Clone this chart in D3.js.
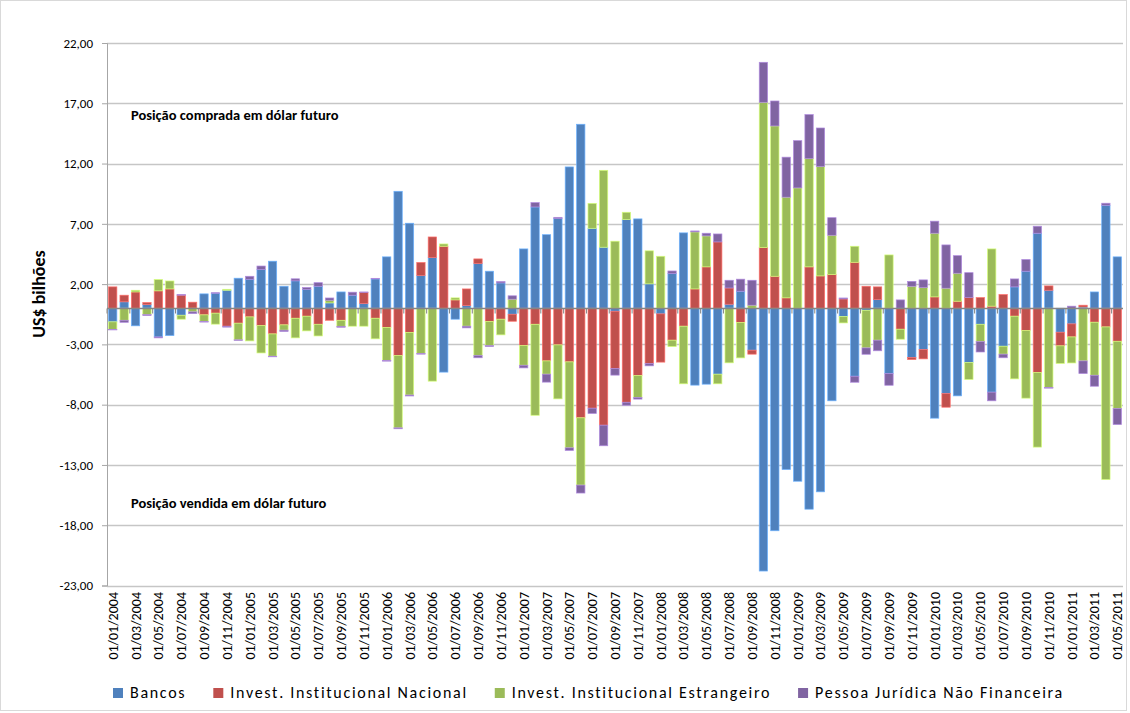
<!DOCTYPE html>
<html>
<head>
<meta charset="utf-8">
<script src="https://cdn.jsdelivr.net/npm/d3@7"></script>
<style>
body { margin: 0; background: #fff; }
svg text { font-family: Carlito, Calibri, Lato, "Open Sans", sans-serif; fill: #000; }
</style>
</head>
<body>
<div id="chart"></div>
<script>
// monthly positions, US$ bilhões, jan/2004 .. mai/2011
var bancos = [-1.13, 0.53, -1.46, 0.3, -2.38, -2.27, -0.58, 0, 1.19, 1.24, 1.49, 2.49, 2.4, 3.2, 3.9,
  1.82, 2.27, 1.55, 1.82, 0.44, 1.35, 1.08, 0.39, 2.43, 4.26, 9.7, 7.05, 2.71, 4.2, -5.3,
  -0.91, 0.22, 3.7, 3.07, 2.1, -0.5, 4.92, 8.4, 6.1, 7.43, 11.72, 15.26, 6.63, 5.06, -0.25,
  7.35, 7.41, 2.02, -0.47, 2.87, 6.25, -6.38, -6.3, -5.47, 0.33, 1.41, -3.48, -21.8, -18.46, -13.38,
  -14.35, -16.67, -15.23, -7.68, -0.69, -5.64, -0.17, 0.72, -5.42, 0, -4.09, -3.43, -9.12, -7.08, -7.27,
  -4.5, -1.33, -6.96, -3.15, 1.77, 3.07, 6.22, 1.49, -1.99, -1.3, 0.1, 1.35, 8.54, 4.26];
var nacional = [1.77, 0.55, 1.35, 0.17, 1.44, 1.6, 1.08, 0.5, -0.55, -0.41, -1.49, -1.24, -0.72, -1.44, -2.13,
  -1.38, -0.83, -0.66, -1.33, -1.0, -1.0, 0, 0.91, -0.83, -1.6, -3.92, -2.0, 1.08, 1.71, 5.14,
  0.69, 1.38, 0.39, -1.1, -0.91, -0.58, -3.1, -1.33, -4.37, -3.04, -4.45, -9.09, -8.29, -9.7, -4.75,
  -7.8, -5.58, -4.59, -4.0, -2.65, -1.49, 1.6, 3.43, 5.5, 1.35, -1.19, -0.33, 5.03, 2.65, 0.86,
  0, 3.43, 2.68, 2.79, 0.77, 3.81, 1.82, 1.05, 0, -1.74, -0.17, -0.77, 0.94, -1.13, 0.58,
  0.88, 0.88, 0.17, 1.13, -0.66, -1.85, -5.33, 0.36, -1.13, -1.08, 0.15, -1.16, -1.55, -2.74];
var estrangeiro = [-0.64, -1.0, 0.14, -0.53, 0.94, 0.66, -0.33, -0.3, -0.55, -0.91, 0.08, -1.38, -1.99, -2.27, -1.85,
  -0.44, -1.63, -1.22, -0.97, 0.22, -0.5, -1.49, -1.49, -1.71, -2.74, -6.0, -5.2, -3.76, -6.05, 0.19,
  0.17, -1.49, -3.92, -2.0, -1.3, 0.75, -1.63, -7.55, -1.1, -4.48, -7.13, -5.58, 2.07, 6.38, 5.56,
  0.61, -1.82, 2.74, 4.31, -0.53, -4.78, 4.73, 2.57, -0.8, -4.53, -2.93, 0.25, 12.05, 12.47, 8.35,
  9.98, 8.98, 9.07, 3.26, -0.53, 1.33, -3.12, -2.65, 4.42, -0.83, 1.82, 1.71, 5.28, 1.66, 2.32,
  -1.41, -1.44, 4.75, -0.66, -5.2, -5.61, -6.19, -6.58, -1.46, -2.16, -4.37, -4.4, -12.66, -5.58];
var pjNaoFin = [-0.03, -0.17, 0, -0.08, -0.08, 0, 0.05, -0.15, -0.05, 0.05, -0.08, -0.05, 0.25, 0.3, -0.05,
  -0.11, 0.17, 0.17, 0.3, 0.19, -0.08, 0.25, 0.05, 0.05, -0.05, -0.08, -0.08, -0.05, 0, 0,
  0, -0.14, -0.19, -0.08, 0.11, 0.28, -0.22, 0.36, -0.66, 0.11, -0.22, -0.66, -0.44, -1.71, -0.55,
  -0.25, -0.14, -0.19, 0, 0.22, 0, 0.08, 0.22, 0.66, 0.64, 1.0, 2.07, 3.32, 2.07, 3.32,
  3.92, 3.65, 3.2, 1.46, 0.08, -0.5, -0.53, -0.88, -0.97, 0.69, 0.41, 0.64, 1.0, 3.59, 1.46,
  2.07, -0.86, -0.72, -0.3, 0.66, 0.97, 0.58, -0.05, 0, 0.17, -1.05, -0.91, 0.17, -1.33];

var seriesNames = ["Bancos", "Invest. Institucional Nacional", "Invest. Institucional Estrangeiro", "Pessoa Jurídica Não Financeira"];
var seriesColors = ["#4F81BD", "#C0504D", "#9BBB59", "#8064A2"];
var yTicks = [22, 17, 12, 7, 2, -3, -8, -13, -18, -23];

// categories: first day of each month
var months = d3.timeMonths(new Date(2004, 0, 1), new Date(2011, 4, 2));
var fmtMonth = d3.timeFormat("%d/%m/%Y");
var categories = months.map(fmtMonth);

// table for d3.stack
var table = categories.map(function(c, i) {
  return { cat: c, b: bancos[i], n: nacional[i], e: estrangeiro[i], p: pjNaoFin[i] };
});
var keys = ["b", "n", "e", "p"];

var W = 1130, H = 713;
var plot = { left: 107, right: 1123, top: 43, bottom: 585.5 };

var svg = d3.select("#chart").append("svg")
  .attr("width", W)
  .attr("height", H);

// outer frame
svg.append("rect")
  .attr("x", 0.5).attr("y", 0.5)
  .attr("width", 1126).attr("height", 710)
  .attr("fill", "none").attr("stroke", "#d9d9d9");

var x = d3.scaleBand()
  .domain(categories)
  .range([plot.left, plot.right])
  .paddingInner(0.27)
  .paddingOuter(0.135);

var y = d3.scaleLinear()
  .domain([-23, 22])
  .range([plot.bottom, plot.top]);

// gridlines
svg.append("g")
  .selectAll("line")
  .data(yTicks)
  .enter().append("line")
    .attr("x1", plot.left).attr("x2", plot.right)
    .attr("y1", function(d) { return Math.round(y(d)) + 0.5; })
    .attr("y2", function(d) { return Math.round(y(d)) + 0.5; })
    .attr("stroke", "#c6c6c6")
    .attr("stroke-width", 1.3);

// y axis
var yAxis = svg.append("g")
  .attr("transform", "translate(" + plot.left + ",0)")
  .call(d3.axisLeft(y)
    .tickValues(yTicks)
    .tickSize(5)
    .tickPadding(9)
    .tickFormat(function(d) { return d.toFixed(2).replace(".", ","); }));
yAxis.select(".domain").attr("stroke", "#a6a6a6");
yAxis.selectAll(".tick line").attr("stroke", "#a6a6a6");
yAxis.selectAll("text").attr("font-size", 13).attr("font-family", "Carlito, Calibri, Lato, sans-serif");

// stacked bars, positives up and negatives down
var stack = d3.stack().keys(keys).offset(d3.stackOffsetDiverging);
var layers = stack(table);

svg.append("g")
  .selectAll("g")
  .data(layers)
  .enter().append("g")
    .attr("fill", function(d, i) { return seriesColors[i]; })
    .attr("stroke", function(d, i) { return d3.color(seriesColors[i]).brighter(0.9); })
    .attr("stroke-width", 0.7)
  .selectAll("rect")
  .data(function(d) { return d; })
  .enter().append("rect")
    .attr("x", function(d) { return x(d.data.cat); })
    .attr("width", x.bandwidth())
    .attr("y", function(d) { return y(Math.max(d[0], d[1])); })
    .attr("height", function(d) { return Math.abs(y(d[0]) - y(d[1])); });

// category axis on zero line
var y0 = Math.round(y(0)) + 0.5;
svg.append("line")
  .attr("x1", plot.left).attr("x2", plot.right)
  .attr("y1", y0).attr("y2", y0)
  .attr("stroke", "#868686").attr("stroke-width", 1.3);

var step = x.step();
svg.append("g")
  .selectAll("line")
  .data(d3.range(0, categories.length + 1, 2))
  .enter().append("line")
    .attr("x1", function(k) { return plot.left + k * step; })
    .attr("x2", function(k) { return plot.left + k * step; })
    .attr("y1", y0).attr("y2", y0 + 5)
    .attr("stroke", "#868686");

// rotated month labels at the bottom
svg.append("g")
  .selectAll("text")
  .data(categories.filter(function(c, i) { return i % 2 === 0; }))
  .enter().append("text")
    .attr("transform", function(d) {
      return "translate(" + (x(d) + x.bandwidth() / 2 + 5) + "," + 592 + ") rotate(-90)";
    })
    .attr("text-anchor", "end")
    .attr("font-size", 14)
    .text(function(d) { return d; });

// axis title
svg.append("text")
  .attr("transform", "translate(45,294) rotate(-90)")
  .attr("text-anchor", "middle")
  .attr("font-size", 18)
  .attr("font-weight", "bold")
  .text("US$ bilhões");

// notes
svg.append("text")
  .attr("x", 131).attr("y", 120)
  .attr("font-size", 14.5).attr("font-weight", "bold")
  .text("Posição comprada em dólar futuro");
svg.append("text")
  .attr("x", 131).attr("y", 508)
  .attr("font-size", 14.5).attr("font-weight", "bold")
  .text("Posição vendida em dólar futuro");

// legend, entries laid out one after another
var legend = svg.append("g").attr("transform", "translate(0,688)");
var lx = 113;
seriesNames.forEach(function(name, i) {
  var g = legend.append("g").attr("transform", "translate(" + lx + ",0)");
  g.append("rect")
    .attr("width", 10).attr("height", 10)
    .attr("fill", seriesColors[i]);
  var t = g.append("text")
    .attr("x", 17).attr("y", 10)
    .attr("font-size", 16)
    .attr("letter-spacing", 1.7)
    .text(name);
  lx += 17 + t.node().getComputedTextLength() + 27;
});
</script>
</body>
</html>
